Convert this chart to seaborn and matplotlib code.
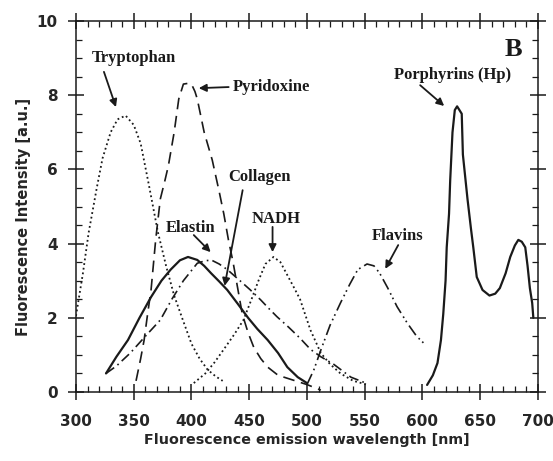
import matplotlib
matplotlib.use("Agg")
import matplotlib.pyplot as plt
import seaborn as sns
import pandas as pd
from matplotlib.ticker import MultipleLocator

# Emission spectra of endogenous fluorophores (wavelength nm, intensity a.u.)
tryptophan_nm = [300, 306, 311, 318, 323, 330, 336, 343, 350, 356, 363, 371,
                 378, 385, 393, 400, 407, 414, 421, 427]
tryptophan = [2.05, 3.2, 4.3, 5.5, 6.3, 7.0, 7.35, 7.45, 7.2, 6.7, 5.6, 4.3,
              3.4, 2.6, 1.9, 1.3, 0.9, 0.6, 0.42, 0.3]

pyridoxine_nm = [352, 356, 359, 362, 365, 369, 373, 377, 380, 385, 389, 393,
                 397, 400, 403, 405, 411, 418, 424, 428, 432, 436, 440, 444,
                 449, 454, 460, 466, 475, 488, 500, 512]
pyridoxine = [0.3, 0.9, 1.4, 2.1, 2.75, 4.1, 5.2, 5.7, 6.1, 7.0, 7.9, 8.3,
              8.32, 8.3, 8.1, 7.9, 7.0, 6.25, 5.4, 4.8, 4.1, 3.5, 2.8, 2.1,
              1.6, 1.2, 0.9, 0.67, 0.45, 0.32, 0.2, 0.05]

collagen_nm = [326, 335, 345, 355, 365, 374, 382, 390, 397, 405, 411, 417,
               424, 431, 440, 449, 457, 466, 475, 483, 492, 500]
collagen = [0.5, 0.95, 1.4, 2.0, 2.56, 3.0, 3.3, 3.55, 3.64, 3.56, 3.4, 3.2,
            2.98, 2.75, 2.38, 2.0, 1.7, 1.4, 1.05, 0.67, 0.4, 0.24]

elastin_nm = [326, 335, 347, 360, 373, 383, 393, 405, 411, 417, 424, 431,
              442, 451, 460, 467, 474, 484, 494, 503, 512, 523, 538, 551]
elastin = [0.5, 0.7, 1.05, 1.5, 1.94, 2.5, 3.0, 3.47, 3.53, 3.56, 3.45, 3.3,
           3.0, 2.75, 2.48, 2.25, 2.03, 1.75, 1.45, 1.15, 0.95, 0.75, 0.4, 0.24]

nadh_nm = [402, 412, 420, 428, 437, 445, 452, 458, 464, 471, 477, 483, 489,
           494, 503, 512, 520, 529, 540, 552]
nadh = [0.24, 0.5, 0.8, 1.15, 1.55, 1.94, 2.5, 3.0, 3.45, 3.64, 3.5, 3.15,
        2.8, 2.5, 1.67, 1.05, 0.75, 0.5, 0.3, 0.2]

flavins_nm = [500, 506, 512, 520, 529, 537, 544, 552, 558, 563, 570, 578,
              587, 595, 601]
flavins = [0.2, 0.6, 1.13, 1.8, 2.4, 2.9, 3.3, 3.45, 3.4, 3.2, 2.8, 2.3,
           1.85, 1.5, 1.32]

porphyrins_nm = [604, 609, 613, 616, 618, 620, 621, 623, 624, 626, 628, 630,
                 632, 634, 635, 637, 639, 642, 644, 647, 652, 658, 663, 667,
                 672, 676, 680, 683, 686, 689, 691, 693, 695, 696]
porphyrins = [0.19, 0.45, 0.78, 1.4, 2.1, 3.0, 3.9, 4.8, 5.7, 7.0, 7.6, 7.7,
              7.6, 7.5, 6.4, 5.8, 5.2, 4.4, 3.9, 3.1, 2.75, 2.6, 2.65, 2.8,
              3.2, 3.64, 3.95, 4.1, 4.05, 3.9, 3.4, 2.8, 2.4, 2.0]

x_ticks = [300, 350, 400, 450, 500, 550, 600, 650, 700]
y_ticks = [0, 2, 4, 6, 8, 10]

sns.set_theme(style="ticks")
plt.rcParams["font.family"] = ["DejaVu Sans"]

ink = "#1a1a1a"
series = [
    ("Tryptophan", tryptophan_nm, tryptophan, (0, (1.0, 1.6)), 1.3),
    ("Pyridoxine", pyridoxine_nm, pyridoxine, (0, (7, 4)), 1.2),
    ("Collagen", collagen_nm, collagen, "-", 1.6),
    ("Elastin", elastin_nm, elastin, (0, (6, 2.5, 1, 2.5)), 1.2),
    ("NADH", nadh_nm, nadh, (0, (1.0, 1.6)), 1.3),
    ("Flavins", flavins_nm, flavins, (0, (7, 2.5, 1, 2, 1, 2.5)), 1.2),
    ("Porphyrins (Hp)", porphyrins_nm, porphyrins, "-", 1.6),
]

fig = plt.figure(figsize=(5.53, 4.61), dpi=100)
ax = fig.add_axes([0.1374, 0.1497, 0.8354, 0.8047])

for name, xs, ys, ls, lw in series:
    df = pd.DataFrame({"nm": xs, "val": ys})
    sns.lineplot(data=df, x="nm", y="val", ax=ax, color=ink, linestyle=ls,
                 linewidth=lw, sort=False, estimator=None)

ax.set_xlim(300, 700)
ax.set_ylim(0, 10)
ax.set_xticks(x_ticks)
ax.set_yticks(y_ticks)
ax.xaxis.set_minor_locator(MultipleLocator(10))
ax.yaxis.set_minor_locator(MultipleLocator(0.5))
ax.tick_params(which="major", direction="inout", length=12, width=1.1,
               color=ink, top=True, right=True, labelsize=11, pad=7)
ax.tick_params(axis="x", which="major", pad=10)
ax.tick_params(which="minor", direction="in", length=4.5, width=0.9,
               color=ink, top=True, right=True)
for lab in ax.get_xticklabels() + ax.get_yticklabels():
    lab.set_fontweight("bold")
for sp in ax.spines.values():
    sp.set_linewidth(1.1)
    sp.set_color(ink)

ax.set_xlabel("Fluorescence emission wavelength [nm]", fontsize=10.3,
              fontweight="bold", labelpad=3)
ax.set_ylabel("Fluorescence Intensity [a.u.]", fontsize=10.5,
              fontweight="bold")
ax.yaxis.set_label_coords(-0.097, 0.472)

serif = dict(family=["Liberation Serif"], fontweight="bold", fontsize=12,
             color=ink)
arrow = dict(arrowstyle="-|>", color=ink, lw=1.3, mutation_scale=11,
             shrinkA=0, shrinkB=0)


def label(text, xy, xytext, arrow_from, ha="center"):
    ax.text(xytext[0], xytext[1], text, ha=ha, va="center", **serif)
    ax.annotate("", xy=xy, xytext=arrow_from, arrowprops=arrow)


label("Tryptophan", (334.6, 7.68), (350, 9.0), (324.2, 8.63))
label("Pyridoxine", (406.3, 8.19), (435.6, 8.22), (432.2, 8.22), ha="left")
label("Collagen", (428.7, 2.86), (459, 5.8), (444.3, 5.44))
label("Elastin", (416.6, 3.77), (399.4, 4.42), (402, 4.23))
label("NADH", (470.2, 3.77), (473.6, 4.66), (470.2, 4.45))
label("Flavins", (567.8, 3.32), (578.6, 4.2), (579, 3.96))
label("Porphyrins (Hp)", (618.8, 7.71), (626, 8.54), (598, 8.27))
ax.text(686, 9.24, "B", family=["Liberation Serif"], fontweight="bold",
        fontsize=19, ha="right", va="center", color=ink)

fig.savefig("out.png", dpi=100)
